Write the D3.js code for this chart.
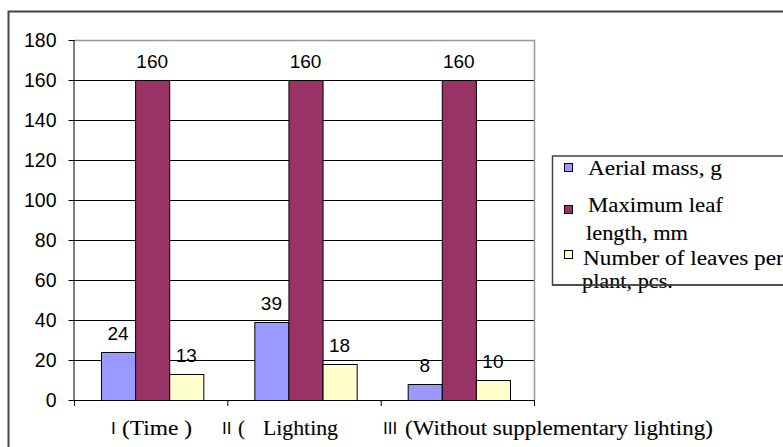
<!DOCTYPE html>
<html><head><meta charset="utf-8">
<script src="https://cdn.jsdelivr.net/npm/d3@7"></script>
<style>body{margin:0;background:#fff}svg{display:block}</style>
</head><body>
<svg id="c" width="783" height="447"></svg>
<script>
const categories = ["I", "II", "III"];
const categoryNames = ["(Time  )", "(", "(Without supplementary lighting)"];
const categoryExtra = ["", "Lighting", ""];
const seriesNames = ["Aerial mass, g", "Maximum leaf length, mm", "Number of leaves per plant, pcs."];
const aerialMass = [24, 39, 8];
const leafLength = [160, 160, 160];
const leavesCount = [13, 18, 10];
const yTicks = [0, 20, 40, 60, 80, 100, 120, 140, 160, 180];
const colors = ["#9999FF", "#993366", "#FFFFCC"];

const svg = d3.select("#c");
const sans = "Arial, 'Liberation Sans', sans-serif";
const serif = "'Liberation Serif', 'Times New Roman', serif";
const L = 74, R = 534, T = 40, B = 400;
const y = d3.scaleLinear().domain([0, 180]).range([B, T]);
const x0 = d3.scaleBand().domain(categories).range([L, R]).paddingInner(0).paddingOuter(0);
const x1 = d3.scaleBand().domain([0,1,2]).range([27, x0.bandwidth() - 24]);

// serif text stretched horizontally to a target width
function stretchText(x, yy, str, w, size) {
  const t = svg.append("text").attr("x", 0).attr("y", 0).attr("font-family", serif)
    .attr("font-size", size).attr("fill", "#000")
    .attr("stroke", "#000").attr("stroke-width", 0.12).text(str);
  const nat = t.node().getComputedTextLength() || w;
  t.attr("transform", `translate(${x},${yy}) scale(${w / nat},1)`);
  return t;
}

// outer frame
svg.append("rect").attr("x", 8.5).attr("y", 11.5).attr("width", 800).attr("height", 460)
  .attr("fill", "none").attr("stroke", "#444").attr("stroke-width", 2);

// gridlines
svg.append("g").selectAll("line").data(yTicks.filter(d => d > 0 && d < 180)).join("line")
  .attr("x1", L).attr("x2", R).attr("y1", d => y(d) + 0.5).attr("y2", d => y(d) + 0.5)
  .attr("stroke", "#000").attr("stroke-width", 1);
// plot border top/right gray
svg.append("path").attr("d", `M${L},${T+0.5}H${R+0.5}V${B}`).attr("fill", "none")
  .attr("stroke", "#999").attr("stroke-width", 1.5);

// bars
const series = [aerialMass, leafLength, leavesCount];
const g = svg.append("g");
categories.forEach((c, i) => {
  series.forEach((s, j) => {
    const bx = x0(c) + x1(j);
    g.append("rect").attr("x", bx + 0.5).attr("y", y(s[i]) + 0.5)
      .attr("width", x1.bandwidth()).attr("height", y(0) - y(s[i]))
      .attr("fill", colors[j]).attr("stroke", "#000").attr("stroke-width", 1);
    g.append("text").attr("x", bx + x1.bandwidth() / 2).attr("y", y(s[i]) - 12)
      .attr("text-anchor", "middle").attr("font-family", sans)
      .attr("font-size", 19).attr("fill", "#000").text(s[i]);
  });
});

// y axis
const ya = svg.append("g").attr("transform", `translate(${L + 0.5},0)`)
  .call(d3.axisLeft(y).tickValues(yTicks).tickSize(6).tickPadding(12));
ya.select(".domain").attr("stroke", "#000").attr("d", `M-0.5,${T}V${B}`);
ya.selectAll(".tick line").attr("stroke", "#000");
ya.selectAll(".tick text").attr("font-family", sans)
  .attr("font-size", 19.5).attr("fill", "#000");

// x axis
svg.append("line").attr("x1", L).attr("x2", R + 1).attr("y1", B + 0.5).attr("y2", B + 0.5).attr("stroke", "#000");
const xt = [L, ...categories.map(c => x0(c) + x0.bandwidth())];
svg.append("g").selectAll("line").data(xt).join("line")
  .attr("x1", d => d + 0.5).attr("x2", d => d + 0.5).attr("y1", B).attr("y2", B + 6).attr("stroke", "#000");

// x labels
const numX = [111, 222, 383];
const nameX = [122, 238, 405];
const nameW = [70, 7, 308];
categories.forEach((c, i) => {
  svg.append("text").attr("x", numX[i]).attr("y", 434).attr("font-family", sans)
    .attr("font-size", 17).attr("fill", "#000").text(c);
  stretchText(nameX[i], 435, categoryNames[i], nameW[i], 22);
  if (categoryExtra[i]) stretchText(263, 435, categoryExtra[i], 75, 22);
});

// legend
svg.append("rect").attr("x", 552.5).attr("y", 156).attr("width", 260).attr("height", 129)
  .attr("fill", "#fff").attr("stroke", "#444").attr("stroke-width", 1.5);
const leg = [
  {sy: 163, lines: [[588, 175, "Aerial mass, g", 134]]},
  {sy: 205, lines: [[588, 212, "Maximum leaf", 135], [586, 240, "length, mm", 102]]},
  {sy: 250, lines: [[583, 265, "Number of leaves per", 201], [582, 288, "plant, pcs.", 91]]}
];
leg.forEach((d, j) => {
  svg.append("rect").attr("x", 564.5).attr("y", d.sy + 0.5).attr("width", 8).attr("height", 8)
    .attr("fill", colors[j]).attr("stroke", "#000");
  d.lines.forEach(l => stretchText(l[0], l[1], l[2], l[3], 22));
});
// legend bottom border drawn over the overflowing text
svg.append("line").attr("x1", 552).attr("x2", 783).attr("y1", 285).attr("y2", 285).attr("stroke", "#444").attr("stroke-width", 1.5);
</script>
</body></html>
